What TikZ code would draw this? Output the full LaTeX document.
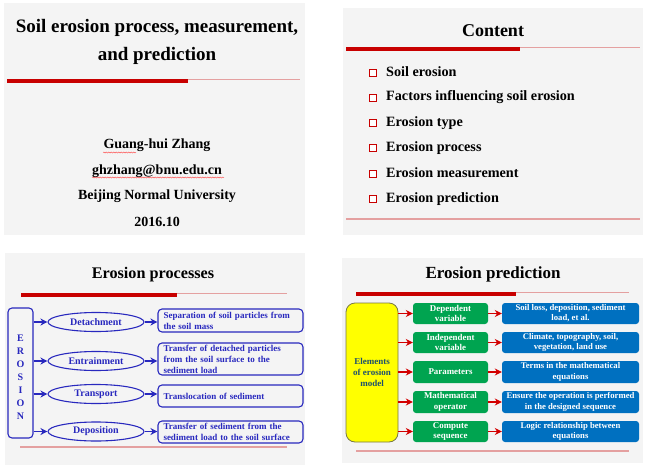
\documentclass[tikz,border=0pt]{standalone}
\usepackage{fontspec}
\setmainfont{Liberation Serif}
\usetikzlibrary{arrows.meta,shapes.geometric,decorations.pathmorphing}
\definecolor{slidebg}{RGB}{244,244,244}
\definecolor{barred}{RGB}{200,0,0}
\definecolor{thinred}{RGB}{228,160,160}
\definecolor{procblue}{RGB}{40,40,190}
\definecolor{mgreen}{RGB}{0,164,80}
\definecolor{mblue}{RGB}{0,112,192}
\definecolor{myellow}{RGB}{255,255,0}
\definecolor{yborder}{RGB}{120,120,70}
\definecolor{ytext}{RGB}{30,80,110}
\definecolor{arrred}{RGB}{210,0,0}
\tikzset{
  slidebox/.style={fill=slidebg, draw=none},
  redbar/.style={draw=barred, line width=4pt},
  thinrule/.style={draw=thinred, line width=0.7pt},
  bottomrule/.style={draw=thinred, line width=1.2pt},
  ttl/.style={font=\bfseries\fontsize{18}{20}\selectfont, text=black, inner sep=0pt},
  info/.style={font=\bfseries\fontsize{14}{16}\selectfont, text=black, inner sep=0pt},
  item/.style={font=\bfseries\fontsize{14.2}{16}\selectfont, text=black, inner sep=0pt, anchor=west},
  bulletsq/.style={rectangle, draw=barred, fill=white, line width=0.9pt, minimum size=7pt, inner sep=0pt},
  squiggle/.style={draw=red!80, line width=0.4pt, decorate, decoration={snake, segment length=2.5pt, amplitude=0.5pt}},
  erobox/.style={rectangle, rounded corners=4pt, draw=procblue, line width=1.1pt, minimum width=25pt, minimum height=130pt, inner sep=0pt},
  erotext/.style={inner sep=0pt, text=procblue, align=center, font=\bfseries\fontsize{10}{13}\selectfont},
  procell/.style={ellipse, draw=procblue, line width=1.1pt, minimum width=96pt, minimum height=19pt, inner sep=0pt, text=procblue, font=\bfseries\fontsize{10}{12}\selectfont},
  procbox/.style={rectangle, rounded corners=4pt, draw=procblue, line width=1.1pt, minimum width=145pt, text width=134pt, align=left, inner xsep=5.5pt, inner ysep=0pt, text=procblue, font=\bfseries\fontsize{9}{11}\selectfont},
  procarrow/.style={draw=procblue, line width=1.7pt, -{Stealth[length=7pt,width=7pt]}},
  ylbox/.style={rectangle, rounded corners=9pt, fill=myellow, draw=yborder, line width=0.8pt, minimum width=52pt, minimum height=139pt, inner sep=1pt, align=center, text=ytext, font=\bfseries\fontsize{9}{11}\selectfont},
  grnbox/.style={rectangle, rounded corners=3pt, fill=mgreen, draw=none, minimum width=75pt, inner sep=1pt, align=center, text=white, font=\bfseries\fontsize{8.9}{10.3}\selectfont},
  blubox/.style={rectangle, rounded corners=3pt, fill=mblue, draw=none, minimum width=137pt, inner sep=1pt, align=center, text=white, font=\bfseries\fontsize{8.7}{10.3}\selectfont},
  redarrow/.style={draw=arrred, line width=1.4pt, -{Stealth[length=7pt,width=7pt]}}
}
\begin{document}
\begin{tikzpicture}[x=1pt,y=-1pt]
\useasboundingbox (0,0) rectangle (651,471);
\fill[white] (0,0) rectangle (651,471);
% ---------- slide 1 ----------
\path[slidebox] (4,3) rectangle (305,235);
\node[ttl, font=\bfseries\fontsize{19}{28}\selectfont, align=center] (t1) at (157,42) {Soil erosion process, measurement,\\and prediction};
\draw[thinrule] (188,79) -- (300,79);
\draw[redbar] (7,81) -- (188,81);
\node[info] (name) at (157,145) {Guang-hui Zhang};
\node[info] (mail) at (157,171) {ghzhang@bnu.edu.cn};
\node[info] (univ) at (157,196) {Beijing Normal University};
\node[info] (date) at (157,222) {2016.10};
\draw[squiggle] (103,152.5) -- (136,152.5);
\draw[squiggle] (92,177.5) -- (224,177.5);
% ---------- slide 2 ----------
\path[slidebox] (343,8) rectangle (643,235);
\node[ttl] (t2) at (493,31) {Content};
\draw[thinrule] (520,47.6) -- (640,47.6);
\draw[redbar] (346,49) -- (520,49);
\node[bulletsq] (s1) at (373,72.5) {};
\node[bulletsq] (s2) at (373,97.5) {};
\node[bulletsq] (s3) at (373,123) {};
\node[bulletsq] (s4) at (373,148) {};
\node[bulletsq] (s5) at (373,173.5) {};
\node[bulletsq] (s6) at (373,199) {};
\node[item] (i1) at (386,72) {Soil erosion};
\node[item] (i2) at (386,97) {Factors influencing soil erosion};
\node[item] (i3) at (386,123) {Erosion type};
\node[item] (i4) at (386,148) {Erosion process};
\node[item] (i5) at (386,173) {Erosion measurement};
\node[item] (i6) at (386,199) {Erosion prediction};
\draw[bottomrule] (346,219) -- (640,219);
% ---------- slide 3 ----------
\path[slidebox] (5,253) rectangle (305,465);
\node[ttl, font=\bfseries\fontsize{16.2}{18}\selectfont] (t3) at (153,275) {Erosion processes};
\draw[thinrule] (177,293.3) -- (287,293.3);
\draw[redbar] (21,294.5) -- (177,294.5);
\node[erobox] (ero) at (20.5,373) {};
\node[erotext] (erot) at (20.5,377) {E\\R\\O\\S\\I\\O\\N};
\node[procell] (det) at (96,322) {Detachment};
\node[procell] (ent) at (96,361) {Entrainment};
\node[procell] (tra) at (96,394) {Transport};
\node[procell] (dep) at (96,431.5) {Deposition};
\node[procbox, minimum height=23pt] (detd) at (230.5,320.5) {Separation of soil particles from\\the soil mass};
\node[procbox, minimum height=32pt] (entd) at (230.5,359) {Transfer of detached particles\\from the soil surface to the\\sediment load};
\node[procbox, minimum height=22pt] (trad) at (230.5,396) {Translocation of sediment};
\node[procbox, minimum height=22pt] (depd) at (230.5,432) {Transfer of sediment from the\\sediment load to the soil surface};
\foreach \e/\d in {det/detd, ent/entd, tra/trad, dep/depd}{
  \draw[procarrow] (ero.east |- \e.west) -- (\e.west);
  \draw[procarrow] (\e.east) -- (\d.west |- \e.east);
}
\draw[bottomrule] (20,447) -- (287,447);
% ---------- slide 4 ----------
\path[slidebox] (342,258) rectangle (643,463);
\node[ttl, font=\bfseries\fontsize{17}{20}\selectfont] (t4) at (493,274) {Erosion prediction};
\draw[thinrule] (516,292.6) -- (629,292.6);
\draw[redbar] (356,294) -- (516,294);
\node[ylbox] (ele) at (372,372.5) {Elements\\of erosion\\model};
\node[grnbox, minimum height=21pt] (g1) at (450.5,313.5) {Dependent\\variable};
\node[grnbox, minimum height=21pt] (g2) at (450.5,342.5) {Independent\\variable};
\node[grnbox, minimum height=22pt] (g3) at (450.5,372) {Parameters};
\node[grnbox, minimum height=22pt] (g4) at (450.5,402) {Mathematical\\operator};
\node[grnbox, minimum height=21pt] (g5) at (450.5,431.5) {Compute\\sequence};
\node[blubox, minimum height=21pt] (b1) at (570.5,313.5) {Soil loss, deposition, sediment\\load, et al.};
\node[blubox, minimum height=21pt] (b2) at (570.5,342.5) {Climate, topography, soil,\\vegetation, land use};
\node[blubox, minimum height=22pt] (b3) at (570.5,372) {Terms in the mathematical\\equations};
\node[blubox, minimum height=22pt] (b4) at (570.5,402) {Ensure the operation is performed\\in the designed sequence};
\node[blubox, minimum height=21pt] (b5) at (570.5,431.5) {Logic relationship between\\equations};
\foreach \i in {1,...,5}{
  \draw[redarrow] (ele.east |- g\i.west) -- (g\i.west);
  \draw[redarrow] (g\i.east) -- (b\i.west);
}
\draw[bottomrule] (356,451) -- (629,451);
\end{tikzpicture}
\end{document}
